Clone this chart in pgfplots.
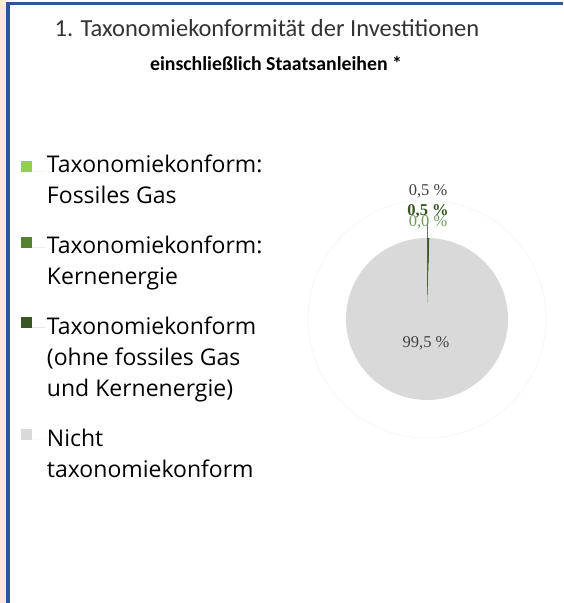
\documentclass[border=0pt]{standalone}
\usepackage{pgfplots}
\pgfplotsset{compat=1.18}
\usepackage{fontspec}
\setmainfont{Open Sans}
\newfontfamily\titlefont{Carlito}
\newfontfamily\labelfont{Liberation Serif}
\definecolor{peach}{HTML}{FDE9D9}
\definecolor{frameblue}{HTML}{2F5597}
\definecolor{cgas}{HTML}{92D050}
\definecolor{ckern}{HTML}{548235}
\definecolor{cohne}{HTML}{375623}
\definecolor{cnicht}{HTML}{D9D9D9}
\definecolor{labgrey}{HTML}{404040}
\definecolor{labgreen}{HTML}{375623}
\definecolor{lablight}{HTML}{6B9A5C}
\newcommand\fl[1]{\rule[-9.3pt]{0pt}{34.8pt}#1}
\newcommand\gl[1]{\rule[-9.3pt]{0pt}{53.8pt}#1}
\begin{document}
\begin{tikzpicture}
\begin{axis}[
  width=563pt, height=603pt, scale only axis,
  xmin=0, xmax=563, ymin=0, ymax=603, y dir=reverse,
  hide axis, clip=false,
  legend style={at={(axis description cs:0.0373,0.7597)}, anchor=north west,
    draw=none, fill=none, inner sep=0pt, outer sep=0pt,
    row sep=0pt, column sep=0pt,
    font=\fontsize{23}{31}\selectfont,
    cells={anchor=base west, inner sep=0pt}},
  legend image code/.code={%
    \path[#1] (0pt,-1pt) rectangle (11pt,10pt);
    \path (0pt,0pt) -- (24pt,0pt);},
]
% background and frame
\path[fill=white] (axis cs:0,0) rectangle (axis cs:563,603);
\path[fill=peach] (axis cs:0,0) rectangle (axis cs:6,603);
\path[fill=frameblue] (axis cs:6,2) rectangle (axis cs:10,603);
\path[fill=frameblue] (axis cs:6,2) rectangle (axis cs:563,5.3);

% outer faint ring
\draw[color=black!4, line width=0.6pt] (axis cs:427,319) circle[radius=119pt];

% pie slices (values in percent: Gas 0.0, Kern 0.0, ohne 0.5, nicht 99.5)
% angle = 3.6 * value, clockwise from 12 o'clock
\addplot[fill=cohne, draw=none, domain=0:1.8, samples=5, variable=\t, forget plot]
  ({427+81*sin(t)},{319-81*cos(t)}) -- (axis cs:427,319) -- cycle;
\addplot[fill=cnicht, draw=none, domain=1.8:360, samples=240, variable=\t, forget plot]
  ({427+81*sin(t)},{319-81*cos(t)}) -- (axis cs:427,319) -- cycle;

% leader line
\draw[color=black!55, line width=0.8pt] (axis cs:427.8,224) -- (axis cs:427.8,238);

% data labels
\node[font=\labelfont\fontsize{16.5}{18}\selectfont, color=labgrey] at (axis cs:428,191) {0,5 \%};
\node[font=\labelfont\bfseries\fontsize{16.5}{18}\selectfont, color=labgreen] at (axis cs:428,211) {0,5 \%};
\node[font=\labelfont\fontsize{16.5}{18}\selectfont, color=lablight] at (axis cs:428,222) {0,0 \%};
\node[font=\labelfont\fontsize{16.5}{18}\selectfont, color=labgrey] at (axis cs:426,343) {99,5 \%};

% title
\node[font=\titlefont\fontsize{24.5}{28}\selectfont, color=black!80, anchor=base] at (axis cs:267,36.5) {1. Taxonomiekonformität der Investitionen};
\node[font=\titlefont\bfseries\fontsize{19.8}{24}\selectfont, color=black, anchor=base] at (axis cs:276,70) {einschließlich Staatsanleihen *};

% legend
\addlegendimage{fill=cgas, draw=none, yshift=1pt}
\addlegendentry{\fl{Taxonomiekonform:}}
\addlegendimage{empty legend}
\addlegendentry{\fl{Fossiles Gas}}
\addlegendimage{fill=ckern, draw=none, yshift=6pt}
\addlegendentry{\gl{Taxonomiekonform:}}
\addlegendimage{empty legend}
\addlegendentry{\fl{Kernenergie}}
\addlegendimage{fill=cohne, draw=none, yshift=7pt}
\addlegendentry{\gl{Taxonomiekonform}}
\addlegendimage{empty legend}
\addlegendentry{\fl{(ohne fossiles Gas}}
\addlegendimage{empty legend}
\addlegendentry{\fl{und Kernenergie)}}
\addlegendimage{fill=cnicht, draw=none, yshift=7pt}
\addlegendentry{\gl{Nicht}}
\addlegendimage{empty legend}
\addlegendentry{\fl{taxonomiekonform}}
\end{axis}
\end{tikzpicture}
\end{document}
